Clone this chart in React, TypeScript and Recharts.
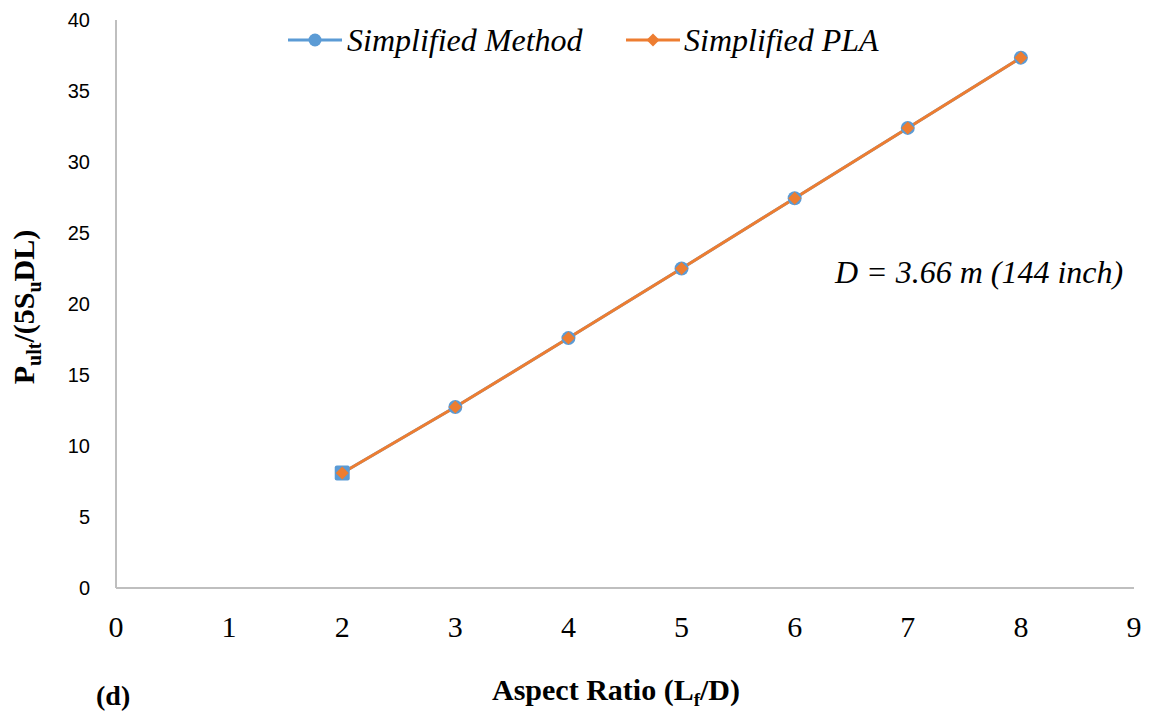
import { LineChart, Line, XAxis, YAxis, Customized } from "recharts";

const aspectRatio = [2, 3, 4, 5, 6, 7, 8];
const simplifiedMethod = [8.1, 12.75, 17.6, 22.5, 27.45, 32.4, 37.35];
const simplifiedPLA = [8.1, 12.75, 17.6, 22.5, 27.45, 32.4, 37.35];
const xTicks = [0, 1, 2, 3, 4, 5, 6, 7, 8, 9];
const yTicks = [0, 5, 10, 15, 20, 25, 30, 35, 40];

const BLUE = "#5B9BD5";
const ORANGE = "#ED7D31";
const SERIF = "'Liberation Serif', 'Times New Roman', serif";
const SANS = "'Liberation Sans', Arial, sans-serif";

const data = aspectRatio.map((x, i) => ({
  x,
  method: simplifiedMethod[i],
  pla: simplifiedPLA[i],
}));

function BlueDot(props: any) {
  const { cx, cy, index } = props;
  if (cx == null || cy == null) return null;
  if (index === 0) {
    return <rect x={cx - 7.5} y={cy - 7.5} width={15} height={15} rx={2} fill={BLUE} />;
  }
  return <circle cx={cx} cy={cy} r={7} fill={BLUE} />;
}

function Diamond(props: any) {
  const { cx, cy } = props;
  if (cx == null || cy == null) return null;
  const s = 6.5;
  return (
    <polygon
      points={`${cx},${cy - s} ${cx + s},${cy} ${cx},${cy + s} ${cx - s},${cy}`}
      fill={ORANGE}
    />
  );
}

function XTick(props: any) {
  const { x, y, payload } = props;
  return (
    <text x={x} y={y} dy={24} textAnchor="middle" fontFamily={SERIF} fontSize={30} fill="#000">
      {payload.value}
    </text>
  );
}

function YTick(props: any) {
  const { x, y, payload } = props;
  return (
    <text x={x} y={y} dy={7} textAnchor="end" fontFamily={SANS} fontSize={20} fill="#000">
      {payload.value}
    </text>
  );
}

function YLabel() {
  return (
    <text
      transform="translate(34, 307) rotate(-90)"
      textAnchor="middle"
      fontFamily={SERIF}
      fontWeight="bold"
      fontSize={30}
      fill="#000"
    >
      P<tspan fontSize={20} dy={7}>ult</tspan>
      <tspan dy={-7}>/(5S</tspan>
      <tspan fontSize={20} dy={7}>u</tspan>
      <tspan dy={-7}>DL)</tspan>
    </text>
  );
}

function XLabel() {
  return (
    <text x={616} y={700} textAnchor="middle" fontFamily={SERIF} fontWeight="bold" fontSize={30} fill="#000">
      Aspect Ratio (L<tspan fontSize={19} dy={6}>f</tspan>
      <tspan dy={-6}>/D)</tspan>
    </text>
  );
}

function Extras() {
  return (
    <g>
      <line x1={288} y1={40} x2={342} y2={40} stroke={BLUE} strokeWidth={3} />
      <circle cx={315} cy={40} r={6.5} fill={BLUE} />
      <text x={347} y={51} fontFamily={SERIF} fontStyle="italic" fontSize={32} fill="#000">
        Simplified Method
      </text>
      <line x1={626} y1={40} x2={680} y2={40} stroke={ORANGE} strokeWidth={3} />
      <polygon points="653,33.5 659.5,40 653,46.5 646.5,40" fill={ORANGE} />
      <text x={684} y={51} fontFamily={SERIF} fontStyle="italic" fontSize={32} fill="#000">
        Simplified PLA
      </text>
      <text x={835} y={283} fontFamily={SERIF} fontStyle="italic" fontSize={32} fill="#000">
        D = 3.66 m (144 inch)
      </text>
      <text x={96} y={705} fontFamily={SERIF} fontWeight="bold" fontSize={28} fill="#000">
        (d)
      </text>
      <YLabel />
      <XLabel />
    </g>
  );
}

export default function App() {
  return (
    <div style={{ position: "absolute", left: 0, top: 0, width: 1151, height: 713, background: "#fff" }}>
      <LineChart width={1151} height={713} data={data} margin={{ top: 20, right: 17, bottom: 0, left: 0 }}>
        <XAxis
          type="number"
          dataKey="x"
          domain={[0, 9]}
          ticks={xTicks}
          interval={0}
          height={125}
          tickLine={false}
          tickSize={0}
          tickMargin={25}
          tick={<XTick />}
          stroke="#BFBFBF"
          strokeWidth={2}
        />
        <YAxis
          type="number"
          domain={[0, 40]}
          ticks={yTicks}
          interval={0}
          width={116}
          tickLine={false}
          tickSize={0}
          tickMargin={26}
          tick={<YTick />}
          stroke="#BFBFBF"
          strokeWidth={2}
        />
        <Line
          dataKey="method"
          stroke={BLUE}
          strokeWidth={3}
          dot={<BlueDot />}
          activeDot={false}
          isAnimationActive={false}
        />
        <Line
          dataKey="pla"
          stroke={ORANGE}
          strokeWidth={3}
          dot={<Diamond />}
          activeDot={false}
          isAnimationActive={false}
        />
        <Customized component={Extras} />
      </LineChart>
    </div>
  );
}
